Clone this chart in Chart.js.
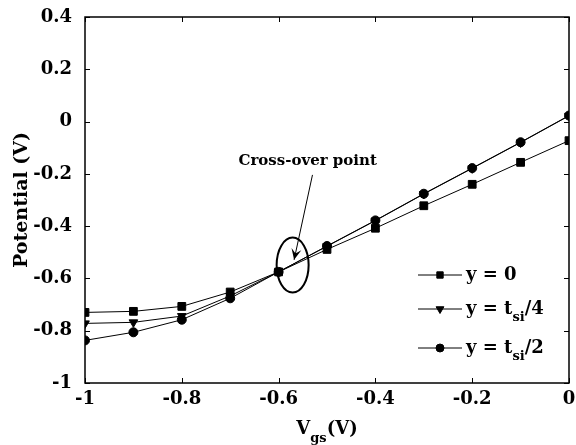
<!DOCTYPE html>
<html>
<head>
<meta charset="utf-8">
<script src="https://cdn.jsdelivr.net/npm/chart.js@4"></script>
<style>
  html, body { margin: 0; padding: 0; background: #fff; }
  #wrap { width: 576px; height: 445px; }
</style>
</head>
<body>
<div id="wrap"><canvas id="chart" width="576" height="445"></canvas></div>
<script>
// Gate voltage sweep
const vgs = [-1, -0.9, -0.8, -0.7, -0.6, -0.5, -0.4, -0.3, -0.2, -0.1, 0];

// Potential at three depths in the silicon film
const potY0 = [-0.730, -0.726, -0.707, -0.652, -0.575, -0.489, -0.408, -0.322, -0.240, -0.156, -0.073];
const potQuarter = [-0.772, -0.768, -0.744, -0.667, -0.575, -0.477, -0.379, -0.277, -0.179, -0.080, 0.022];
const potHalf = [-0.837, -0.806, -0.758, -0.676, -0.575, -0.476, -0.378, -0.276, -0.178, -0.079, 0.023];

// Legend labels: [main, subscript, tail]
const seriesLabels = [
    ["y = 0", "", ""],
    ["y = t", "si", "/4"],
    ["y = t", "si", "/2"]
];

const xTicks = [-1, -0.8, -0.6, -0.4, -0.2, 0];
const yTicks = [-1, -0.8, -0.6, -0.4, -0.2, 0, 0.2, 0.4];

const FONT = "'DejaVu Serif', serif";

function toPoints(ys) {
    return vgs.map((x, i) => ({ x: x, y: ys[i] }));
}

// Frame, inward ticks, titles, legend and the cross-over annotation
const decorations = {
    id: 'decorations',
    afterDraw(chart) {
        const ctx = chart.ctx;
        const a = chart.chartArea;
        const xs = chart.scales.x;
        const ys = chart.scales.y;
        ctx.save();

        // box
        ctx.strokeStyle = '#000';
        ctx.lineWidth = 1.5;
        ctx.strokeRect(a.left, a.top, a.right - a.left, a.bottom - a.top);

        // inward ticks on all sides
        ctx.lineWidth = 1;
        const len = 5;
        ctx.beginPath();
        xTicks.forEach(v => {
            const px = Math.round(xs.getPixelForValue(v)) + 0.5;
            ctx.moveTo(px, a.bottom); ctx.lineTo(px, a.bottom - len);
            ctx.moveTo(px, a.top); ctx.lineTo(px, a.top + len);
        });
        yTicks.forEach(v => {
            const py = Math.round(ys.getPixelForValue(v)) + 0.5;
            ctx.moveTo(a.left, py); ctx.lineTo(a.left + len, py);
            ctx.moveTo(a.right, py); ctx.lineTo(a.right - len, py);
        });
        ctx.stroke();

        // y title
        ctx.fillStyle = '#000';
        ctx.font = "bold 19px " + FONT;
        ctx.textAlign = 'center';
        ctx.textBaseline = 'middle';
        ctx.save();
        ctx.translate(22, (a.top + a.bottom) / 2);
        ctx.rotate(-Math.PI / 2);
        ctx.fillText('Potential (V)', 0, 0);
        ctx.restore();

        // x title  V_gs(V)
        const cx = (a.left + a.right) / 2;
        const ty = 428;
        ctx.textAlign = 'left';
        ctx.textBaseline = 'alphabetic';
        const bigFont = "bold 18px " + FONT;
        const subFont = "bold 13px " + FONT;
        ctx.font = bigFont; const wV = ctx.measureText('V').width;
        ctx.font = subFont; const wS = ctx.measureText('gs').width;
        ctx.font = bigFont; const wT = ctx.measureText('(V)').width;
        let sx = cx - (wV + wS + wT) / 2;
        ctx.font = bigFont; ctx.fillText('V', sx, ty + 6); sx += wV;
        ctx.font = subFont; ctx.fillText('gs', sx, ty + 14); sx += wS;
        ctx.font = bigFont; ctx.fillText('(V)', sx, ty + 6);

        // legend
        const rows = [275, 309, 348];
        const styles = ['rect', 'triangle', 'circle'];
        const radii = [4.5, 4.5, 4];
        const x0 = a.right - 151, x1 = a.right - 107, mx = a.right - 129;
        rows.forEach((ry, i) => {
            ctx.strokeStyle = '#000';
            ctx.lineWidth = 1;
            ctx.beginPath();
            ctx.moveTo(x0, ry); ctx.lineTo(x1, ry);
            ctx.stroke();
            const ds = chart.data.datasets[i];
            Chart.helpers.drawPoint(ctx, {
                pointStyle: styles[i],
                radius: radii[i],
                rotation: ds.pointRotation || 0,
                borderWidth: 1
            }, mx, ry);
            ctx.fillStyle = '#000';
            ctx.font = bigFont;
            ctx.textBaseline = 'middle';
            let lx = a.right - 103;
            const [main, sub, tail] = seriesLabels[i];
            ctx.fillText(main, lx, ry);
            lx += ctx.measureText(main).width;
            if (sub) {
                ctx.font = subFont;
                ctx.fillText(sub, lx, ry + 9);
                lx += ctx.measureText(sub).width;
                ctx.font = bigFont;
                ctx.fillText(tail, lx, ry);
            }
        });

        // annotation
        ctx.font = "bold 15px " + FONT;
        ctx.textAlign = 'center';
        ctx.textBaseline = 'middle';
        ctx.fillText('Cross-over point', xs.getPixelForValue(-0.540), ys.getPixelForValue(-0.151));

        const ax0 = xs.getPixelForValue(-0.530), ay0 = ys.getPixelForValue(-0.204);
        const ax1 = xs.getPixelForValue(-0.568), ay1 = ys.getPixelForValue(-0.529);
        const ang = Math.atan2(ay1 - ay0, ax1 - ax0);
        ctx.strokeStyle = '#000';
        ctx.lineWidth = 1;
        ctx.beginPath();
        ctx.moveTo(ax0, ay0); ctx.lineTo(ax1, ay1);
        ctx.stroke();
        // arrow head (notched)
        const hl = 11, hw = 5;
        ctx.save();
        ctx.translate(ax1, ay1);
        ctx.rotate(ang);
        ctx.beginPath();
        ctx.moveTo(0, 0);
        ctx.lineTo(-hl, -hw);
        ctx.lineTo(-hl * 0.6, 0);
        ctx.lineTo(-hl, hw);
        ctx.closePath();
        ctx.fill();
        ctx.restore();

        // ellipse
        ctx.lineWidth = 2;
        ctx.beginPath();
        ctx.ellipse(xs.getPixelForValue(-0.571), ys.getPixelForValue(-0.549), 16, 27.5, 0, 0, Math.PI * 2);
        ctx.stroke();

        ctx.restore();
    }
};

function lineSet(ys, style, radius, rotation) {
    return {
        data: toPoints(ys),
        showLine: true,
        borderColor: '#000',
        borderWidth: 1,
        backgroundColor: '#000',
        pointStyle: style,
        pointRadius: radius,
        pointRotation: rotation,
        pointBackgroundColor: '#000',
        pointBorderColor: '#000',
        pointBorderWidth: 1,
        tension: 0
    };
}

function tickFormat(v) {
    return String(Number(v.toFixed(1)));
}

new Chart(document.getElementById('chart').getContext('2d'), {
    type: 'scatter',
    data: {
        datasets: [
            lineSet(potY0, 'rect', 5.5, 0),
            lineSet(potQuarter, 'triangle', 5, 180),
            lineSet(potHalf, 'circle', 4.5, 0)
        ]
    },
    options: {
        responsive: false,
        animation: false,
        devicePixelRatio: 1,
        layout: { padding: { top: 17, right: 7, left: 0, bottom: 0 } },
        plugins: {
            legend: { display: false },
            tooltip: { enabled: false }
        },
        scales: {
            x: {
                type: 'linear',
                min: -1,
                max: 0,
                afterBuildTicks: s => { s.ticks = xTicks.map(v => ({ value: v })); },
                afterFit: s => { s.height = 62; s.paddingLeft = 0; s.paddingRight = 0; },
                grid: { display: false, drawTicks: false },
                border: { display: false },
                ticks: {
                    color: '#000',
                    padding: 6,
                    font: { family: FONT, size: 18, weight: 'bold' },
                    callback: tickFormat,
                    maxRotation: 0
                }
            },
            y: {
                type: 'linear',
                min: -1,
                max: 0.4,
                afterBuildTicks: s => { s.ticks = yTicks.map(v => ({ value: v })); },
                afterFit: s => { s.width = 85; s.paddingTop = 0; s.paddingBottom = 0; },
                grid: { display: false },
                border: { display: false },
                ticks: {
                    color: '#000',
                    padding: 5,
                    font: { family: FONT, size: 18, weight: 'bold' },
                    callback: tickFormat
                }
            }
        }
    },
    plugins: [decorations]
});
</script>
</body>
</html>
